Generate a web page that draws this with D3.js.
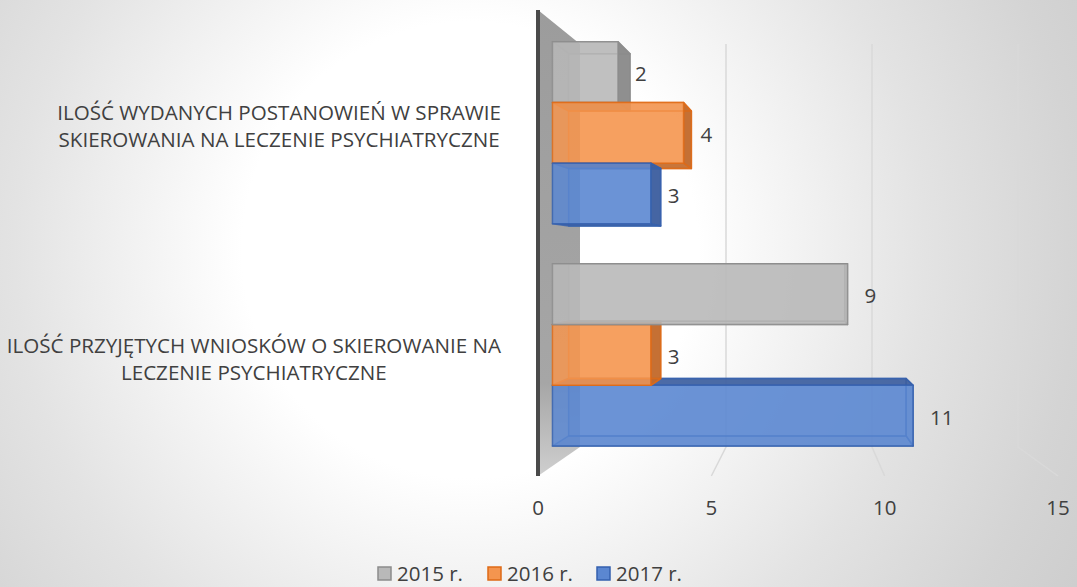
<!DOCTYPE html>
<html>
<head>
<meta charset="utf-8">
<script src="https://cdn.jsdelivr.net/npm/d3@7"></script>
<style>
  body { margin: 0; }
  text { font-family: "Open Sans", "Noto Sans", sans-serif; fill: #404040; }
</style>
</head>
<body>
<div id="chart"></div>
<script>
var categories = [
  "ILOŚĆ WYDANYCH POSTANOWIEŃ W SPRAWIE|SKIEROWANIA NA LECZENIE PSYCHIATRYCZNE",
  "ILOŚĆ PRZYJĘTYCH WNIOSKÓW O SKIEROWANIE NA|LECZENIE PSYCHIATRYCZNE"
];
var seriesNames = ["2015 r.", "2016 r.", "2017 r."];
var values2015 = [2, 9];
var values2016 = [4, 3];
var values2017 = [3, 11];
var xTicks = [0, 5, 10, 15];

var width = 1077, height = 587;

var colors = {
  "2015 r.": { front: "#b9b9b9", side: "#8a8a8a", edge: "#8c8c8c" },
  "2016 r.": { front: "#f4954f", side: "#c26a2c", edge: "#de6a16" },
  "2017 r.": { front: "#5b87d1", side: "#3e5f9e", edge: "#3560ae" }
};

var svg = d3.select("#chart").append("svg")
  .attr("width", width)
  .attr("height", height);

// background: radial white -> grey
var defs = svg.append("defs");
var bg = defs.append("radialGradient").attr("id", "bg")
  .attr("gradientUnits", "userSpaceOnUse")
  .attr("cx", 470).attr("cy", 250).attr("r", 760);
bg.append("stop").attr("offset", 0).attr("stop-color", "#ffffff");
bg.append("stop").attr("offset", 0.3).attr("stop-color", "#ffffff");
bg.append("stop").attr("offset", 0.6).attr("stop-color", "#e3e3e3");
bg.append("stop").attr("offset", 0.8).attr("stop-color", "#d4d4d4");
bg.append("stop").attr("offset", 1).attr("stop-color", "#c9c9c9");

var wallGrad = defs.append("linearGradient").attr("id", "wall")
  .attr("x1", 0).attr("y1", 0).attr("x2", 0).attr("y2", 1);
wallGrad.append("stop").attr("offset", 0).attr("stop-color", "#9c9c9c");
wallGrad.append("stop").attr("offset", 0.8).attr("stop-color", "#a6a6a6");
wallGrad.append("stop").attr("offset", 1).attr("stop-color", "#cfcfcf");

svg.append("rect").attr("width", width).attr("height", height).attr("fill", "url(#bg)");

// 3d box: front plane and back wall plane, interpolated by depth
var xFront = d3.scaleLinear().domain([0, 15]).range([538, 1058]);
var xBack = d3.scaleLinear().domain([0, 15]).range([580, 1018]);
var yFront = d3.scaleLinear().domain([0, 1]).range([10, 476]);
var yBack = d3.scaleLinear().domain([0, 1]).range([44, 447]);

function proj(v, u, d) {
  return [xFront(v) * (1 - d) + xBack(v) * d, yFront(u) * (1 - d) + yBack(u) * d];
}

var yBand = d3.scaleBand().domain(categories).range([0, 1])
  .paddingInner(0.18).paddingOuter(0.09);
var ySeries = d3.scaleBand().domain(seriesNames).range([0, yBand.bandwidth()]);

var line = d3.line();

// gridlines on back wall and floor
var grid = svg.append("g");
xTicks.filter(function(t) { return t > 0; }).forEach(function(t) {
  grid.append("path")
    .attr("d", line([proj(t, 0, 1), proj(t, 1, 1), proj(t, 1, 0)]))
    .attr("fill", "none").attr("stroke", "#d9d9d9").attr("stroke-width", 1.5);
});

// side wall (left)
svg.append("path")
  .attr("d", line([proj(0, 0, 0), proj(0, 0, 1), proj(0, 1, 1), proj(0, 1, 0)]) + "Z")
  .attr("fill", "url(#wall)");
svg.append("path")
  .attr("d", line([proj(0, 0, 0), proj(0, 1, 0)]))
  .attr("stroke", "#4a4a4a").attr("stroke-width", 4);

// bars
var d0 = 0.344, d1 = 0.73;
var bars = [];
categories.forEach(function(c, i) {
  var vals = [values2015[i], values2016[i], values2017[i]];
  seriesNames.forEach(function(s, j) {
    var u0 = yBand(c) + ySeries(s);
    bars.push({ cat: c, series: s, value: vals[j], u0: u0, u1: u0 + ySeries.bandwidth() });
  });
});
var uEye = (yBack(0) - yFront(0)) / ((yFront(1) - yFront(0)) - (yBack(1) - yBack(0)));
bars.sort(function(a, b) {
  return Math.abs((b.u0 + b.u1) / 2 - uEye) - Math.abs((a.u0 + a.u1) / 2 - uEye);
});

var barG = svg.append("g");
bars.forEach(function(b) {
  var col = colors[b.series];
  var v = b.value;
  var P = proj;
  var g = barG.append("g");
  function face(pts, fill, op) {
    g.append("path").attr("d", line(pts) + "Z")
      .attr("fill", fill).attr("fill-opacity", op)
      .attr("stroke", col.edge).attr("stroke-width", 1.5).attr("stroke-opacity", 0.8)
      .attr("stroke-linejoin", "round");
  }
  // back face
  face([P(0, b.u0, d1), P(v, b.u0, d1), P(v, b.u1, d1), P(0, b.u1, d1)], col.front, 0.35);
  // right side
  var rightVisible = P(v, b.u0, d1)[0] > P(v, b.u0, d0)[0];
  face([P(v, b.u0, d0), P(v, b.u0, d1), P(v, b.u1, d1), P(v, b.u1, d0)], col.side, rightVisible ? 0.95 : 0.3);
  // top / bottom
  var topVisible = P(0, b.u0, d1)[1] < P(0, b.u0, d0)[1];
  face([P(0, b.u0, d0), P(v, b.u0, d0), P(v, b.u0, d1), P(0, b.u0, d1)], col.side, topVisible ? 0.9 : 0.3);
  var botVisible = P(0, b.u1, d1)[1] > P(0, b.u1, d0)[1];
  face([P(0, b.u1, d0), P(v, b.u1, d0), P(v, b.u1, d1), P(0, b.u1, d1)], col.side, botVisible ? 0.9 : 0.3);
  // front
  face([P(0, b.u0, d0), P(v, b.u0, d0), P(v, b.u1, d0), P(0, b.u1, d0)], col.front, 0.85);
  b.labelX = P(v, b.u0, d0)[0];
  b.labelY = (P(v, b.u0, d0)[1] + P(v, b.u1, d0)[1]) / 2;
});

// data labels
svg.append("g").selectAll("text").data(bars).join("text")
  .attr("x", function(b) { return b.labelX + 17; })
  .attr("y", function(b) { return b.labelY + 9; })
  .attr("font-size", 20.5)
  .text(function(b) { return b.value; });

// x axis labels
svg.append("g").selectAll("text").data(xTicks).join("text")
  .attr("x", function(t) { return xFront(t); })
  .attr("y", 515)
  .attr("text-anchor", "middle")
  .attr("font-size", 20.5)
  .text(function(t) { return t; });

// category labels, lines centered within a right-aligned block
var catG = svg.append("g");
categories.forEach(function(c) {
  var cy = yFront(yBand(c) + yBand.bandwidth() / 2);
  var lines = c.split("|");
  var t = catG.append("g");
  var texts = lines.map(function(l, k) {
    return t.append("text").attr("y", cy - 6.5 + k * 27)
      .attr("font-size", 20.6).attr("text-anchor", "middle").text(l);
  });
  var maxW = d3.max(texts, function(tx) { return tx.node().getComputedTextLength(); });
  texts.forEach(function(tx) { tx.attr("x", 501 - maxW / 2); });
});

// legend
var legX = [377, 487, 596];
var leg = svg.append("g");
seriesNames.forEach(function(s, i) {
  leg.append("rect").attr("x", legX[i] + 1).attr("y", 567).attr("width", 13).attr("height", 13)
    .attr("fill", colors[s].front).attr("stroke", colors[s].edge).attr("stroke-width", 1.5);
  leg.append("text").attr("x", legX[i] + 20).attr("y", 581).attr("font-size", 20.5).text(s);
});
</script>
</body>
</html>
